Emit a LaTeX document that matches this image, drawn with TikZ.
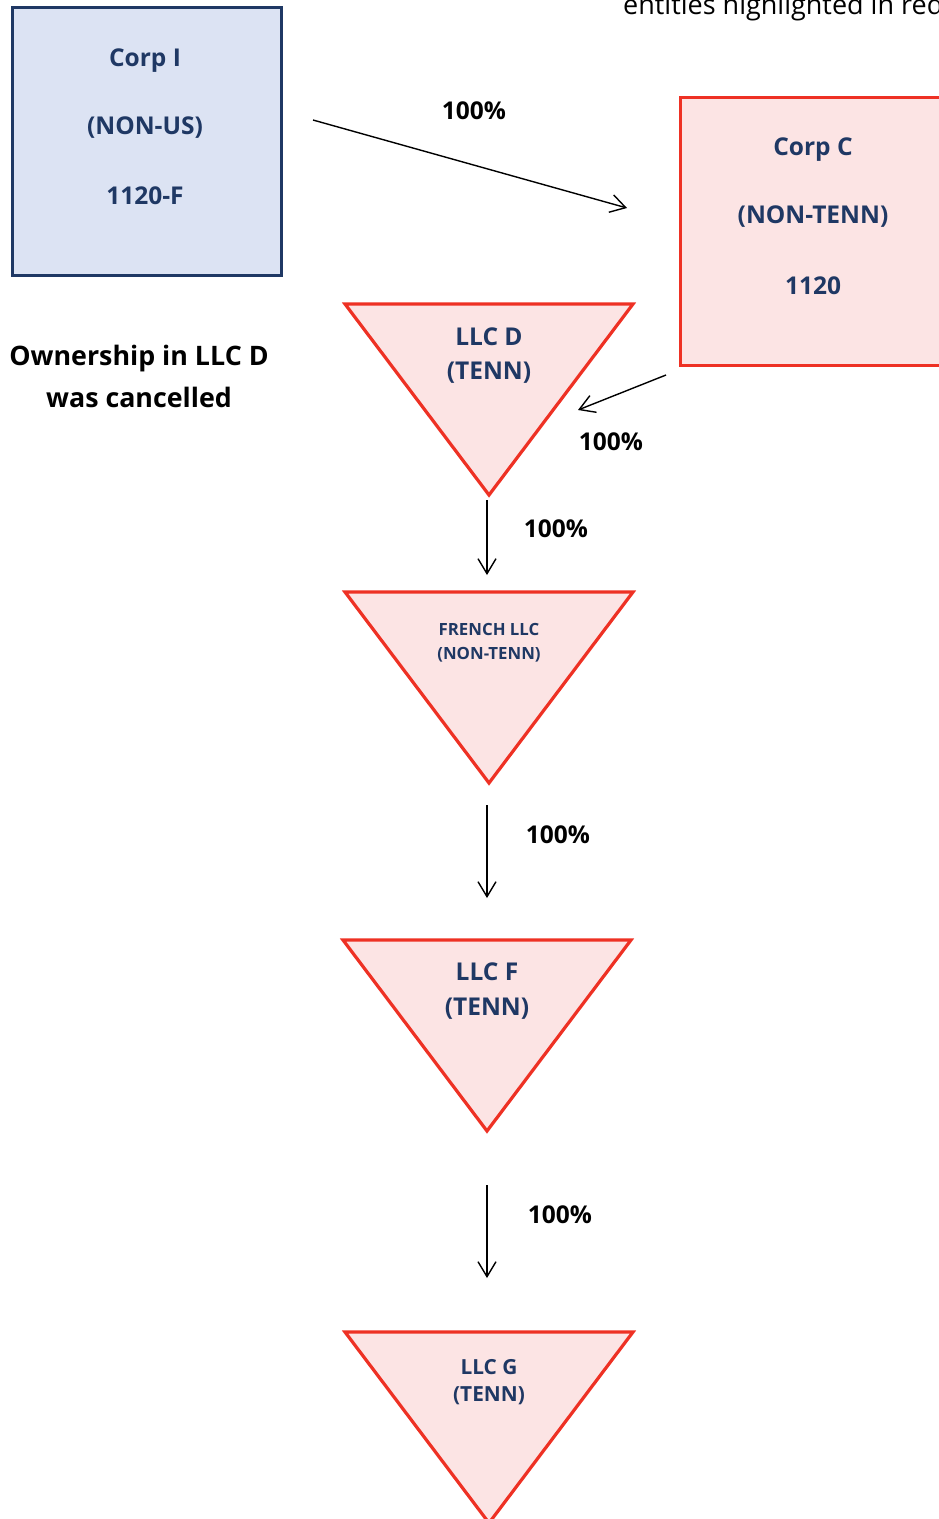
\documentclass[tikz,border=0pt]{standalone}
\usepackage{fontspec}
\setmainfont{Open Sans}
\usetikzlibrary{arrows.meta}
\definecolor{navy}{HTML}{1F3864}
\definecolor{bluefill}{HTML}{DCE3F3}
\definecolor{redline}{HTML}{EE3124}
\definecolor{redfill}{HTML}{FCE4E4}
\tikzset{
  bluebox/.style={draw=navy, fill=bluefill, line width=3.2pt},
  redbox/.style={draw=redline, fill=redfill, line width=3.2pt},
  tri/.style={draw=redline, fill=redfill, line width=3.2pt, line join=miter},
  lbl/.style={font=\bfseries\fontsize{24.5}{28}\selectfont, text=navy, inner sep=0pt},
  smalllbl/.style={font=\bfseries\fontsize{16.8}{20}\selectfont, text=navy, inner sep=0pt},
  midlbl/.style={font=\bfseries\fontsize{20.8}{24}\selectfont, text=navy, inner sep=0pt},
  pct/.style={font=\bfseries\fontsize{24.5}{28}\selectfont, text=black, inner sep=0pt},
  own/.style={-{Straight Barb[length=15pt,width=18pt,line width=1.4pt]}, line width=1.4pt, black}
}
\begin{document}
\begin{tikzpicture}[x=1pt,y=-1pt]
\useasboundingbox (0,0) rectangle (939,1519);
\begin{scope}
\clip (0,0) rectangle (939,1519);
% Corp I
\node[bluebox, minimum width=269pt, minimum height=268pt, anchor=north west] (corpI) at (11,6) {};
\node[lbl] (corpIa) at (145,61) {Corp I};
\node[lbl] (corpIb) at (145,128) {(NON-US)};
\node[lbl] (corpIc) at (145,196) {1120-F};
% Corp C
\node[redbox, minimum width=269pt, minimum height=268pt, anchor=north west] (corpC) at (679,96) {};
\node[lbl] (corpCa) at (813,150) {Corp C};
\node[lbl] (corpCb) at (813,217) {(NON-TENN)};
\node[lbl] (corpCc) at (813,286) {1120};
% Triangles
\draw[tri] (345,304) -- (633,304) -- (489,495) -- cycle;
\node[lbl] (llcDa) at (489,337) {LLC D};
\node[lbl] (llcDb) at (489,373) {(TENN)};
\draw[tri] (345,592) -- (633,592) -- (489,783) -- cycle;
\node[smalllbl] (frA) at (489,629) {FRENCH LLC};
\node[smalllbl] (frB) at (489,655) {(NON-TENN)};
\draw[tri] (343,940) -- (631,940) -- (487,1131) -- cycle;
\node[lbl] (llcFa) at (487,972) {LLC F};
\node[lbl] (llcFb) at (487,1009) {(TENN)};
\draw[tri] (345,1332) -- (633,1332) -- (489,1523) -- cycle;
\node[midlbl] (llcGa) at (489,1367) {LLC G};
\node[midlbl] (llcGb) at (489,1396) {(TENN)};
% text
\node[font=\bfseries\fontsize{26.8}{42}\selectfont, align=center, inner sep=0pt] (note) at (139,376) {Ownership in LLC D\\was cancelled};
\node[font=\fontsize{27}{30}\selectfont, anchor=base west, inner sep=0pt] (legend) at (623,14) {entities highlighted in red};
% connectors
\coordinate (a1s) at (313,120); \coordinate (a1e) at (627,208);
\coordinate (a2s) at (666,375); \coordinate (a2e) at (578,410);
\coordinate (a3s) at (487,500); \coordinate (a3e) at (487,575);
\coordinate (a4s) at (487,805); \coordinate (a4e) at (487,898);
\coordinate (a5s) at (487,1185); \coordinate (a5e) at (487,1278);
\draw[own] (a1s) -- (a1e);
\draw[own] (a2s) -- (a2e);
\draw[own] (a3s) -- (a3e);
\draw[own] (a4s) -- (a4e);
\draw[own] (a5s) -- (a5e);
\node[pct] (p1) at (474,111) {100\%};
\node[pct] (p2) at (611,442) {100\%};
\node[pct] (p3) at (556,529) {100\%};
\node[pct] (p4) at (558,835) {100\%};
\node[pct] (p5) at (560,1215) {100\%};
\end{scope}
\end{tikzpicture}
\end{document}
